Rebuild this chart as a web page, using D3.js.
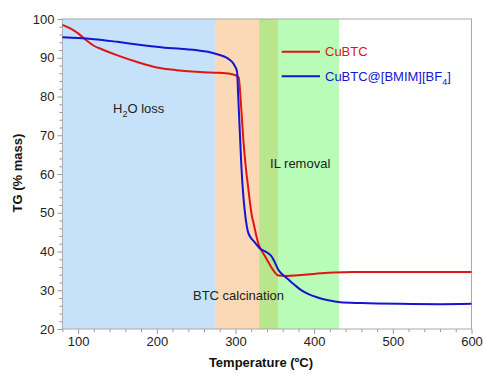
<!DOCTYPE html>
<html>
<head>
<meta charset="utf-8">
<script src="https://cdn.jsdelivr.net/npm/d3@7"></script>
<style>
  body { margin: 0; background: #fff; }
  text { font-family: "Liberation Sans", Arial, sans-serif; }
</style>
</head>
<body>
<svg id="chart"></svg>
<script>
// TG data
var cubtc = [[80,98.5],[90,97.6],[100,96.3],[110,94.6],[120,93.1],[130,92.2],[150,90.6],[175,88.9],[200,87.5],[225,86.8],[255,86.3],[280,86.1],[297,85.7],[304,85.0],[307,78],[310,68.8],[313,62],[316.5,55.9],[318,53.3],[321,49],[323,47.3],[326,44.5],[329,42.1],[333,40.3],[337.8,38.7],[342,37.2],[346.3,35.7],[350,34.6],[354.7,33.8],[365,33.7],[380,33.9],[400,34.2],[425,34.6],[450,34.7],[600,34.7]];
var cubtcIL = [[80,95.3],[100,95.1],[120,94.8],[150,94.1],[180,93.3],[210,92.6],[230,92.3],[255,91.8],[270,91.3],[280,90.7],[288,90.1],[293,89.4],[297,88.6],[299.6,87.7],[302,86.4],[303.5,80],[305.6,70.5],[307.5,62],[309.4,55.9],[311.5,51],[314.5,46.4],[316,45],[318.7,43.8],[324,42.5],[331,40.8],[337,40.1],[342,39.5],[346,38.7],[350,37.2],[354.7,35.2],[360,34],[365.4,33.1],[375,31.4],[383,30.1],[393,29],[403.5,28.2],[418,27.4],[433,26.9],[460,26.7],[509,26.5],[560,26.4],[600,26.5]];

// shaded temperature ranges
var bands = [
  { from: 80, to: 274, color: "#c6e2fb" },
  { from: 274, to: 330, color: "#fcd9b6" },
  { from: 330, to: 354, color: "#b9e58c" },
  { from: 354, to: 431.5, color: "#b9fcb7" }
];
// annotation anchors in data units (temperature, TG)
var notes = [
  { x: 144.4, y: 75.7, label: "H2O loss" },
  { x: 246, y: 27.5, label: "BTC calcination" },
  { x: 344, y: 61.5, label: "IL removal" }
];
var xTicks = [100, 200, 300, 400, 500, 600];
var yTicks = [20, 30, 40, 50, 60, 70, 80, 90, 100];

var W = 483, H = 374;
var margin = { top: 19, right: 11.5, bottom: 45, left: 62.4 },
    width = W - margin.left - margin.right,
    height = H - margin.top - margin.bottom;
var fs = "13px";

var svg = d3.select("#chart").attr("width", W).attr("height", H);
var g = svg.append("g").attr("transform", "translate(" + margin.left + "," + margin.top + ")");

var x = d3.scaleLinear().domain([80, 600]).range([0, width]);
var y = d3.scaleLinear().domain([20, 100]).range([height, 0]);

g.selectAll("rect.band").data(bands).enter().append("rect")
  .attr("class", "band")
  .attr("x", d => x(d.from))
  .attr("width", d => x(d.to) - x(d.from))
  .attr("y", 0)
  .attr("height", height)
  .style("fill", d => d.color);

// minor ticks
var xMinor = d3.range(80, 601, 20).filter(v => v % 100 !== 0);
var yMinor = d3.range(20, 101, 2).filter(v => v % 10 !== 0);
g.append("g").attr("transform", "translate(0," + height + ")")
  .call(d3.axisBottom(x).tickValues(xMinor).tickSize(3).tickFormat(""))
  .call(a => a.select(".domain").remove());
g.append("g")
  .call(d3.axisLeft(y).tickValues(yMinor).tickSize(3).tickFormat(""))
  .call(a => a.select(".domain").remove());

g.append("g").attr("transform", "translate(0," + height + ")")
  .call(d3.axisBottom(x).tickValues(xTicks).tickSize(5).tickPadding(3))
  .call(a => a.select(".domain").remove());
g.append("g")
  .call(d3.axisLeft(y).tickValues(yTicks).tickSize(5).tickPadding(3))
  .call(a => a.select(".domain").remove());

g.selectAll(".tick line").style("stroke", "#999");
g.selectAll(".tick text").style("font-size", fs).style("fill", "#222")
  .style("font-family", "'Liberation Sans', Arial, sans-serif");

// frame
g.append("rect").attr("width", width).attr("height", height)
  .style("fill", "none").style("stroke", "#aaa").style("stroke-width", 1);

var line = d3.line().x(d => x(d[0])).y(d => y(d[1])).curve(d3.curveMonotoneX);
g.append("path").datum(cubtc).attr("d", line)
  .style("fill", "none").style("stroke", "#e01414").style("stroke-width", 2);
g.append("path").datum(cubtcIL).attr("d", line)
  .style("fill", "none").style("stroke", "#1414d2").style("stroke-width", 2);

// annotations
notes.forEach(function(n) {
  var t = g.append("text").attr("x", x(n.x)).attr("y", y(n.y))
    .style("font-size", fs).style("fill", "#222");
  if (n.label === "H2O loss") {
    t.append("tspan").text("H");
    t.append("tspan").attr("dy", 4).style("font-size", "9px").text("2");
    t.append("tspan").attr("dy", -4).text("O loss");
  } else {
    t.text(n.label);
  }
});

// legend
var legend = [
  { name: "CuBTC", color: "#e01414", y: 51.7 },
  { name: "CuBTC@[BMIM][BF", sub: "4", tail: "]", color: "#1414d2", y: 76.3 }
];
legend.forEach(function(l) {
  svg.append("line").attr("x1", 281.7).attr("x2", 320).attr("y1", l.y).attr("y2", l.y)
    .style("stroke", l.color).style("stroke-width", 2);
  var t = svg.append("text").attr("x", 325).attr("y", l.y + 4.5)
    .style("font-size", fs).style("fill", l.color);
  t.append("tspan").text(l.name);
  if (l.sub) {
    t.append("tspan").attr("dy", 4).style("font-size", "9px").text(l.sub);
    t.append("tspan").attr("dy", -4).text(l.tail);
  }
});

// axis titles
svg.append("text")
  .attr("transform", "translate(22," + (margin.top + height / 2 - 1) + ") rotate(-90)")
  .attr("text-anchor", "middle")
  .style("font-size", fs).style("font-weight", "bold").style("fill", "#111")
  .text("TG (% mass)");
svg.append("text")
  .attr("x", 261).attr("y", 367)
  .attr("text-anchor", "middle")
  .style("font-size", fs).style("font-weight", "bold").style("fill", "#111")
  .text("Temperature (ºC)");
</script>
</body>
</html>
